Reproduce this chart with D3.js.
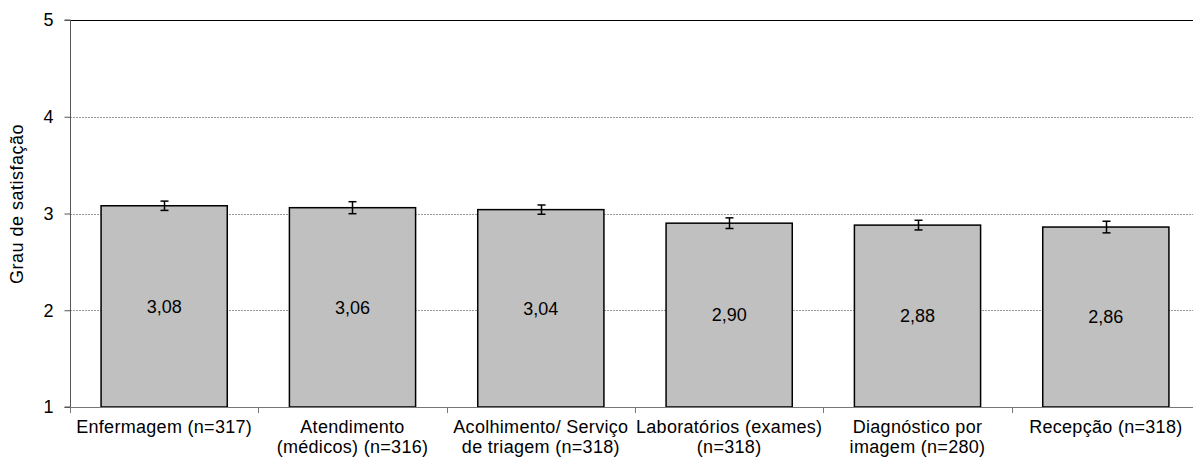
<!DOCTYPE html>
<html>
<head>
<meta charset="utf-8">
<script src="https://cdn.jsdelivr.net/npm/d3@7"></script>
<style>
  body { margin: 0; background: #fff; }
  svg { display: block; }
  svg text { font-family: "Liberation Sans", Arial, sans-serif; }
</style>
</head>
<body>
<svg id="chart" width="1193" height="458"></svg>
<script>
const categories = [
  ["Enfermagem (n=317)"],
  ["Atendimento", "(médicos) (n=316)"],
  ["Acolhimento/ Serviço", "de triagem (n=318)"],
  ["Laboratórios (exames)", "(n=318)"],
  ["Diagnóstico por", "imagem (n=280)"],
  ["Recepção (n=318)"]
];
const values = [3.08, 3.06, 3.04, 2.90, 2.88, 2.86];
const errors = [0.048, 0.062, 0.048, 0.055, 0.050, 0.060];
const valueLabels = ["3,08", "3,06", "3,04", "2,90", "2,88", "2,86"];
const yTicks = [1, 2, 3, 4, 5];
const yTitle = "Grau de satisfação";

(function () {
const svg = d3.select("#chart");
const mLeft = 70, mRight = 1200, mTop = 20, mBottom = 407;
const FS = 18;

const x = d3.scaleBand().domain(d3.range(categories.length)).range([mLeft, mRight]).paddingInner(0.33).paddingOuter(0.165);
const xTick = d3.scaleBand().domain(d3.range(categories.length)).range([mLeft, mRight]).padding(0);
const y = d3.scaleLinear().domain([1, 5]).range([mBottom, mTop]);

// gridlines
svg.append("g").selectAll("line").data(yTicks.filter(t => t > 1 && t < 5)).join("line")
  .attr("x1", mLeft).attr("x2", mRight)
  .attr("y1", d => Math.round(y(d)) + 0.5).attr("y2", d => Math.round(y(d)) + 0.5)
  .attr("stroke", "#9a9a9a").attr("stroke-width", 1).attr("stroke-dasharray", "2,1");

// top border
svg.append("line").attr("x1", mLeft).attr("x2", mRight)
  .attr("y1", Math.round(y(5)) + 0.5).attr("y2", Math.round(y(5)) + 0.5)
  .attr("stroke", "#000").attr("stroke-width", 1);

// bars
svg.append("g").selectAll("rect").data(values).join("rect")
  .attr("x", (d, i) => x(i)).attr("width", x.bandwidth())
  .attr("y", d => y(d)).attr("height", d => y(1) - y(d))
  .attr("fill", "#c0c0c0").attr("stroke", "#000").attr("stroke-width", 1.5);

// value labels
svg.append("g").selectAll("text").data(values).join("text")
  .attr("x", (d, i) => x(i) + x.bandwidth() / 2)
  .attr("y", d => (y(d) + y(1)) / 2)
  .attr("dy", "0.35em")
  .attr("text-anchor", "middle").attr("font-size", FS).attr("fill", "#000")
  .text((d, i) => valueLabels[i]);

// error bars
const eg = svg.append("g").attr("stroke", "#000").attr("stroke-width", 1.5);
values.forEach((v, i) => {
  const cx = Math.round(x(i) + x.bandwidth() / 2) + 0.5;
  const y0 = y(v + errors[i]), y1 = y(v - errors[i]);
  eg.append("line").attr("x1", cx).attr("x2", cx).attr("y1", y0).attr("y2", y1);
  eg.append("line").attr("x1", cx - 4).attr("x2", cx + 4).attr("y1", y0).attr("y2", y0);
  eg.append("line").attr("x1", cx - 4).attr("x2", cx + 4).attr("y1", y1).attr("y2", y1);
});

// y axis
const yAxis = svg.append("g").attr("transform", `translate(${mLeft + 0.5},0)`)
  .call(d3.axisLeft(y).tickValues(yTicks).tickFormat(d3.format("d")).tickSize(6).tickPadding(11));
yAxis.select(".domain").attr("stroke", "#555").attr("d", `M-6,${mTop}H0V${mBottom}H-6`);
yAxis.selectAll(".tick line").attr("stroke", "#555");
yAxis.selectAll(".tick text").attr("font-size", FS).attr("fill", "#000")
  .attr("font-family", "Liberation Sans, Arial, sans-serif");

// x axis line
svg.append("line").attr("x1", mLeft).attr("x2", mRight)
  .attr("y1", mBottom + 0.5).attr("y2", mBottom + 0.5).attr("stroke", "#777").attr("stroke-width", 1);
// x ticks at category boundaries
svg.append("g").selectAll("line").data(d3.range(categories.length + 1)).join("line")
  .attr("x1", d => Math.round(mLeft + d * xTick.bandwidth()) + 0.5)
  .attr("x2", d => Math.round(mLeft + d * xTick.bandwidth()) + 0.5)
  .attr("y1", mBottom).attr("y2", mBottom + 6)
  .attr("stroke", "#777");

// x labels
const xl = svg.append("g");
categories.forEach((lines, i) => {
  const t = xl.append("text")
    .attr("x", xTick(i) + xTick.bandwidth() / 2)
    .attr("y", 433)
    .attr("text-anchor", "middle").attr("font-size", FS).attr("letter-spacing", 0.3).attr("fill", "#000");
  lines.forEach((ln, j) => {
    t.append("tspan").attr("x", xTick(i) + xTick.bandwidth() / 2).attr("dy", j === 0 ? 0 : 20).text(ln);
  });
});

// y title
svg.append("text")
  .attr("transform", `translate(23,204) rotate(-90)`)
  .attr("text-anchor", "middle").attr("font-size", FS).attr("letter-spacing", 0.5).attr("fill", "#000")
  .text(yTitle);
})();
</script>
</body>
</html>
